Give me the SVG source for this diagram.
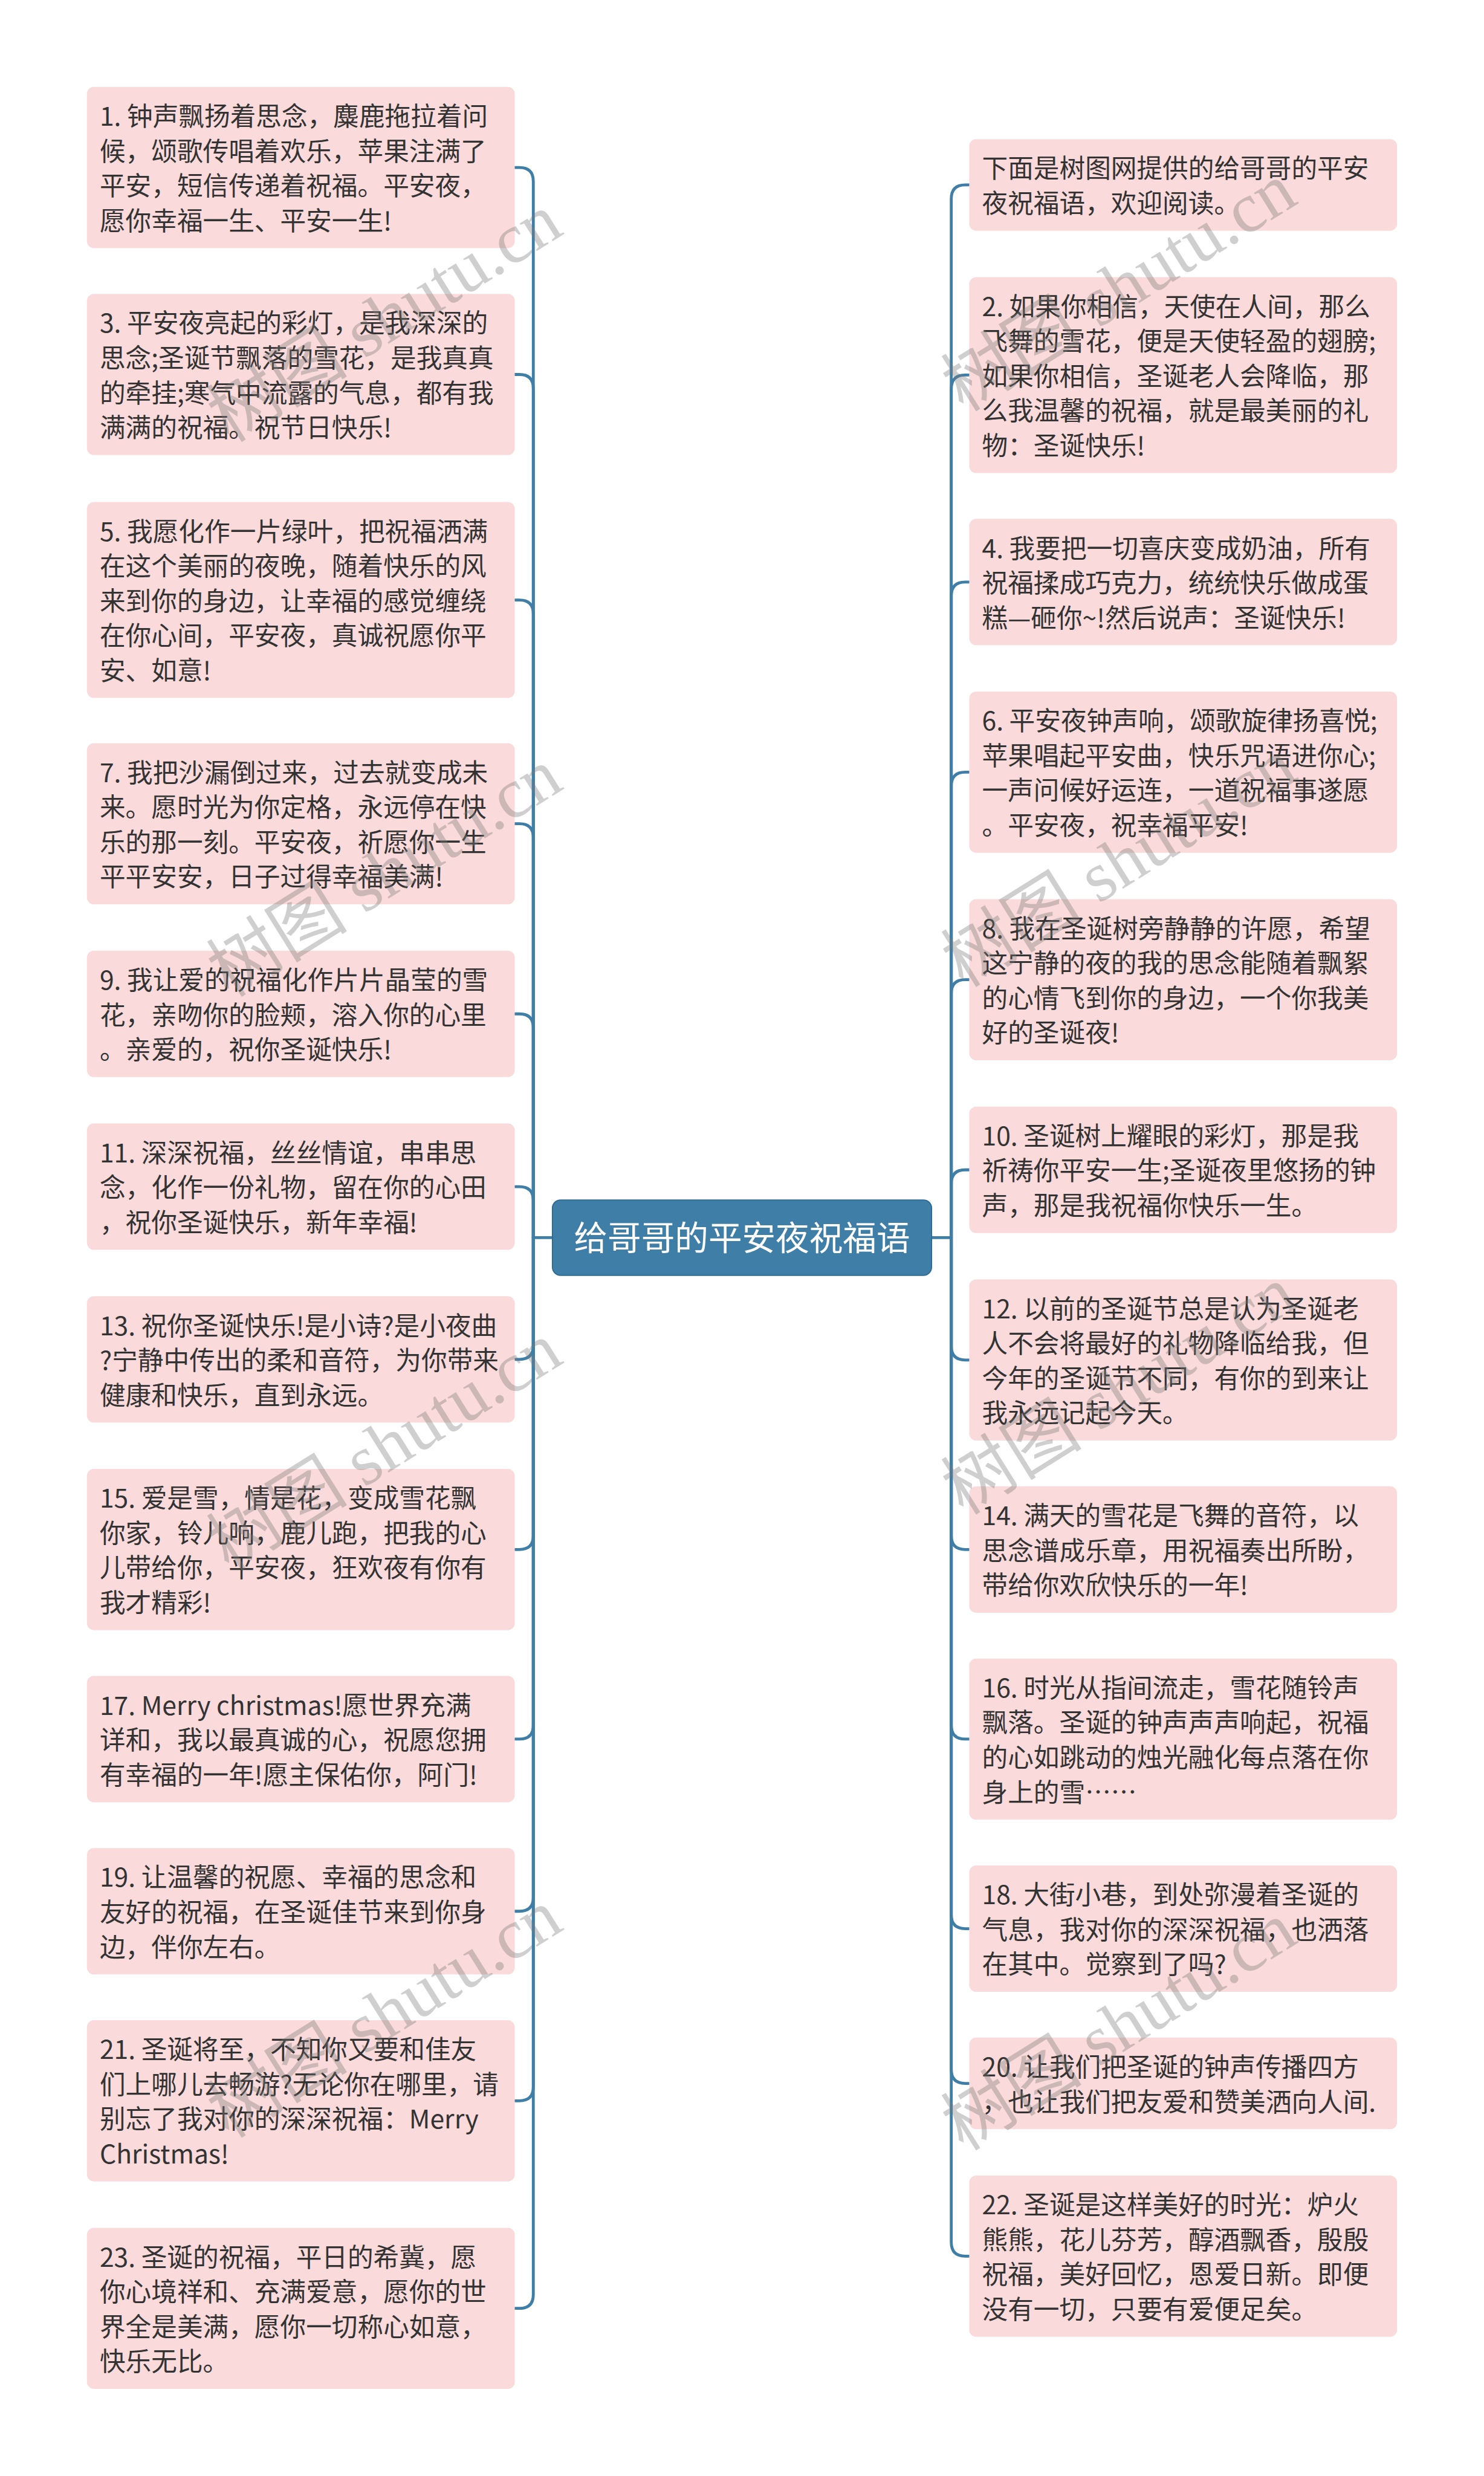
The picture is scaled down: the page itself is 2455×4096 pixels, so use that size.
<svg xmlns="http://www.w3.org/2000/svg" width="2455" height="4096" viewBox="0 0 2455 4096">
<defs>
<style>
.bg{fill:#ffffff}
.node rect{fill:#fadada;}
.t{font-family:"Noto Sans CJK SC","Liberation Sans",sans-serif;font-size:44.5px;fill:#333333}
.root rect{fill:#3f7ea7;stroke:#2e6b94;stroke-width:2}
.rt{font-family:"Noto Sans CJK SC","Liberation Sans",sans-serif;font-size:58px;fill:#ffffff}
.conn path{fill:none;stroke:#3f7ea7;stroke-width:5;stroke-linecap:round}
.wm{font-family:"Liberation Serif","Noto Sans CJK SC",serif;font-size:122px;fill:#7a7a7a;fill-opacity:0.36}
</style>
</defs>
<rect class="bg" x="0" y="0" width="2455" height="4096"/>
<g transform="scale(0.958984)">
<g id="connectors" class="conn">
<path d="M953 2135 H920"/>
<path d="M1607 2135 H1641"/>
<path d="M920 2135 V313 Q920 289 896 289 H888"/>
<path d="M920 2135 V670 Q920 646 896 646 H888"/>
<path d="M920 2135 V1059 Q920 1035 896 1035 H888"/>
<path d="M920 2135 V1445 Q920 1421 896 1421 H888"/>
<path d="M920 2135 V1773 Q920 1749 896 1749 H888"/>
<path d="M920 2135 V2071 Q920 2047 896 2047 H888"/>
<path d="M920 2135 V2321 Q920 2345 896 2345 H888"/>
<path d="M920 2135 V2649 Q920 2673 896 2673 H888"/>
<path d="M920 2135 V2976 Q920 3000 896 3000 H888"/>
<path d="M920 2135 V3273 Q920 3297 896 3297 H888"/>
<path d="M920 2135 V3600 Q920 3624 896 3624 H888"/>
<path d="M920 2135 V3958 Q920 3982 896 3982 H888"/>
<path d="M1641 2135 V343 Q1641 319 1665 319 H1672"/>
<path d="M1641 2135 V671 Q1641 647 1665 647 H1672"/>
<path d="M1641 2135 V1028 Q1641 1004 1665 1004 H1672"/>
<path d="M1641 2135 V1356 Q1641 1332 1665 1332 H1672"/>
<path d="M1641 2135 V1714 Q1641 1690 1665 1690 H1672"/>
<path d="M1641 2135 V2042 Q1641 2018 1665 2018 H1672"/>
<path d="M1641 2135 V2322 Q1641 2346 1665 2346 H1672"/>
<path d="M1641 2135 V2649 Q1641 2673 1665 2673 H1672"/>
<path d="M1641 2135 V2976 Q1641 3000 1665 3000 H1672"/>
<path d="M1641 2135 V3303 Q1641 3327 1665 3327 H1672"/>
<path d="M1641 2135 V3570 Q1641 3594 1665 3594 H1672"/>
<path d="M1641 2135 V3868 Q1641 3892 1665 3892 H1672"/>
</g>

<g id="root" class="root">
<rect x="953" y="2070" width="654" height="130" rx="14"/>
<text class="rt" x="1280" y="2156" text-anchor="middle">给哥哥的平安夜祝福语</text>
</g>

<g id="n1" class="node"><rect x="150" y="150" width="738" height="278" rx="12"/>
<text class="t"><tspan x="172" y="217">1. 钟声飘扬着思念，麋鹿拖拉着问</tspan><tspan x="172" y="277">候，颂歌传唱着欢乐，苹果注满了</tspan><tspan x="172" y="337">平安，短信传递着祝福。平安夜，</tspan><tspan x="172" y="397">愿你幸福一生、平安一生!</tspan></text></g>
<g id="n3" class="node"><rect x="150" y="507" width="738" height="278" rx="12"/>
<text class="t"><tspan x="172" y="574">3. 平安夜亮起的彩灯，是我深深的</tspan><tspan x="172" y="634">思念;圣诞节飘落的雪花，是我真真</tspan><tspan x="172" y="694">的牵挂;寒气中流露的气息，都有我</tspan><tspan x="172" y="754">满满的祝福。祝节日快乐!</tspan></text></g>
<g id="n5" class="node"><rect x="150" y="866" width="738" height="338" rx="12"/>
<text class="t"><tspan x="172" y="933">5. 我愿化作一片绿叶，把祝福洒满</tspan><tspan x="172" y="993">在这个美丽的夜晚，随着快乐的风</tspan><tspan x="172" y="1053">来到你的身边，让幸福的感觉缠绕</tspan><tspan x="172" y="1113">在你心间，平安夜，真诚祝愿你平</tspan><tspan x="172" y="1173">安、如意!</tspan></text></g>
<g id="n7" class="node"><rect x="150" y="1282" width="738" height="278" rx="12"/>
<text class="t"><tspan x="172" y="1349">7. 我把沙漏倒过来，过去就变成未</tspan><tspan x="172" y="1409">来。愿时光为你定格，永远停在快</tspan><tspan x="172" y="1469">乐的那一刻。平安夜，祈愿你一生</tspan><tspan x="172" y="1529">平平安安，日子过得幸福美满!</tspan></text></g>
<g id="n9" class="node"><rect x="150" y="1640" width="738" height="218" rx="12"/>
<text class="t"><tspan x="172" y="1707">9. 我让爱的祝福化作片片晶莹的雪</tspan><tspan x="172" y="1767">花，亲吻你的脸颊，溶入你的心里</tspan><tspan x="172" y="1827">。亲爱的，祝你圣诞快乐!</tspan></text></g>
<g id="n11" class="node"><rect x="150" y="1938" width="738" height="218" rx="12"/>
<text class="t"><tspan x="172" y="2005">11. 深深祝福，丝丝情谊，串串思</tspan><tspan x="172" y="2065">念，化作一份礼物，留在你的心田</tspan><tspan x="172" y="2125">，祝你圣诞快乐，新年幸福!</tspan></text></g>
<g id="n13" class="node"><rect x="150" y="2236" width="738" height="218" rx="12"/>
<text class="t"><tspan x="172" y="2303">13. 祝你圣诞快乐!是小诗?是小夜曲</tspan><tspan x="172" y="2363">?宁静中传出的柔和音符，为你带来</tspan><tspan x="172" y="2423">健康和快乐，直到永远。</tspan></text></g>
<g id="n15" class="node"><rect x="150" y="2534" width="738" height="278" rx="12"/>
<text class="t"><tspan x="172" y="2601">15. 爱是雪，情是花，变成雪花飘</tspan><tspan x="172" y="2661">你家，铃儿响，鹿儿跑，把我的心</tspan><tspan x="172" y="2721">儿带给你，平安夜，狂欢夜有你有</tspan><tspan x="172" y="2781">我才精彩!</tspan></text></g>
<g id="n17" class="node"><rect x="150" y="2891" width="738" height="218" rx="12"/>
<text class="t"><tspan x="172" y="2958">17. Merry christmas!愿世界充满</tspan><tspan x="172" y="3018">详和，我以最真诚的心，祝愿您拥</tspan><tspan x="172" y="3078">有幸福的一年!愿主保佑你，阿门!</tspan></text></g>
<g id="n19" class="node"><rect x="150" y="3188" width="738" height="218" rx="12"/>
<text class="t"><tspan x="172" y="3255">19. 让温馨的祝愿、幸福的思念和</tspan><tspan x="172" y="3315">友好的祝福，在圣诞佳节来到你身</tspan><tspan x="172" y="3375">边，伴你左右。</tspan></text></g>
<g id="n21" class="node"><rect x="150" y="3485" width="738" height="278" rx="12"/>
<text class="t"><tspan x="172" y="3552">21. 圣诞将至，不知你又要和佳友</tspan><tspan x="172" y="3612">们上哪儿去畅游?无论你在哪里，请</tspan><tspan x="172" y="3672">别忘了我对你的深深祝福：Merry</tspan><tspan x="172" y="3732">Christmas!</tspan></text></g>
<g id="n23" class="node"><rect x="150" y="3843" width="738" height="278" rx="12"/>
<text class="t"><tspan x="172" y="3910">23. 圣诞的祝福，平日的希冀，愿</tspan><tspan x="172" y="3970">你心境祥和、充满爱意，愿你的世</tspan><tspan x="172" y="4030">界全是美满，愿你一切称心如意，</tspan><tspan x="172" y="4090">快乐无比。</tspan></text></g>

<g id="n0" class="node"><rect x="1672" y="240" width="738" height="158" rx="12"/>
<text class="t"><tspan x="1694" y="307">下面是树图网提供的给哥哥的平安</tspan><tspan x="1694" y="367">夜祝福语，欢迎阅读。</tspan></text></g>
<g id="n2" class="node"><rect x="1672" y="478" width="738" height="338" rx="12"/>
<text class="t"><tspan x="1694" y="545">2. 如果你相信，天使在人间，那么</tspan><tspan x="1694" y="605">飞舞的雪花，便是天使轻盈的翅膀;</tspan><tspan x="1694" y="665">如果你相信，圣诞老人会降临，那</tspan><tspan x="1694" y="725">么我温馨的祝福，就是最美丽的礼</tspan><tspan x="1694" y="785">物：圣诞快乐!</tspan></text></g>
<g id="n4" class="node"><rect x="1672" y="895" width="738" height="218" rx="12"/>
<text class="t"><tspan x="1694" y="962">4. 我要把一切喜庆变成奶油，所有</tspan><tspan x="1694" y="1022">祝福揉成巧克力，统统快乐做成蛋</tspan><tspan x="1694" y="1082">糕—砸你~!然后说声：圣诞快乐!</tspan></text></g>
<g id="n6" class="node"><rect x="1672" y="1193" width="738" height="278" rx="12"/>
<text class="t"><tspan x="1694" y="1260">6. 平安夜钟声响，颂歌旋律扬喜悦;</tspan><tspan x="1694" y="1320">苹果唱起平安曲，快乐咒语进你心;</tspan><tspan x="1694" y="1380">一声问候好运连，一道祝福事遂愿</tspan><tspan x="1694" y="1440">。平安夜，祝幸福平安!</tspan></text></g>
<g id="n8" class="node"><rect x="1672" y="1551" width="738" height="278" rx="12"/>
<text class="t"><tspan x="1694" y="1618">8. 我在圣诞树旁静静的许愿，希望</tspan><tspan x="1694" y="1678">这宁静的夜的我的思念能随着飘絮</tspan><tspan x="1694" y="1738">的心情飞到你的身边，一个你我美</tspan><tspan x="1694" y="1798">好的圣诞夜!</tspan></text></g>
<g id="n10" class="node"><rect x="1672" y="1909" width="738" height="218" rx="12"/>
<text class="t"><tspan x="1694" y="1976">10. 圣诞树上耀眼的彩灯，那是我</tspan><tspan x="1694" y="2036">祈祷你平安一生;圣诞夜里悠扬的钟</tspan><tspan x="1694" y="2096">声，那是我祝福你快乐一生。</tspan></text></g>
<g id="n12" class="node"><rect x="1672" y="2207" width="738" height="278" rx="12"/>
<text class="t"><tspan x="1694" y="2274">12. 以前的圣诞节总是认为圣诞老</tspan><tspan x="1694" y="2334">人不会将最好的礼物降临给我，但</tspan><tspan x="1694" y="2394">今年的圣诞节不同，有你的到来让</tspan><tspan x="1694" y="2454">我永远记起今天。</tspan></text></g>
<g id="n14" class="node"><rect x="1672" y="2564" width="738" height="218" rx="12"/>
<text class="t"><tspan x="1694" y="2631">14. 满天的雪花是飞舞的音符，以</tspan><tspan x="1694" y="2691">思念谱成乐章，用祝福奏出所盼，</tspan><tspan x="1694" y="2751">带给你欢欣快乐的一年!</tspan></text></g>
<g id="n16" class="node"><rect x="1672" y="2861" width="738" height="278" rx="12"/>
<text class="t"><tspan x="1694" y="2928">16. 时光从指间流走，雪花随铃声</tspan><tspan x="1694" y="2988">飘落。圣诞的钟声声声响起，祝福</tspan><tspan x="1694" y="3048">的心如跳动的烛光融化每点落在你</tspan><tspan x="1694" y="3108">身上的雪……</tspan></text></g>
<g id="n18" class="node"><rect x="1672" y="3218" width="738" height="218" rx="12"/>
<text class="t"><tspan x="1694" y="3285">18. 大街小巷，到处弥漫着圣诞的</tspan><tspan x="1694" y="3345">气息，我对你的深深祝福，也洒落</tspan><tspan x="1694" y="3405">在其中。觉察到了吗?</tspan></text></g>
<g id="n20" class="node"><rect x="1672" y="3515" width="738" height="158" rx="12"/>
<text class="t"><tspan x="1694" y="3582">20. 让我们把圣诞的钟声传播四方</tspan><tspan x="1694" y="3642">，也让我们把友爱和赞美洒向人间.</tspan></text></g>
<g id="n22" class="node"><rect x="1672" y="3753" width="738" height="278" rx="12"/>
<text class="t"><tspan x="1694" y="3820">22. 圣诞是这样美好的时光：炉火</tspan><tspan x="1694" y="3880">熊熊，花儿芬芳，醇酒飘香，殷殷</tspan><tspan x="1694" y="3940">祝福，美好回忆，恩爱日新。即便</tspan><tspan x="1694" y="4000">没有一切，只要有爱便足矣。</tspan></text></g>

<g id="watermarks" class="wm">
<text transform="translate(395 765) rotate(-32)">树图 shutu.cn</text>
<text transform="translate(1662 712) rotate(-32)">树图 shutu.cn</text>
<text transform="translate(395 1722) rotate(-32)">树图 shutu.cn</text>
<text transform="translate(1662 1705) rotate(-32)">树图 shutu.cn</text>
<text transform="translate(395 2712) rotate(-32)">树图 shutu.cn</text>
<text transform="translate(1662 2615) rotate(-32)">树图 shutu.cn</text>
<text transform="translate(395 3690) rotate(-32)">树图 shutu.cn</text>
<text transform="translate(1662 3712) rotate(-32)">树图 shutu.cn</text>
</g>
</g>
</svg>
